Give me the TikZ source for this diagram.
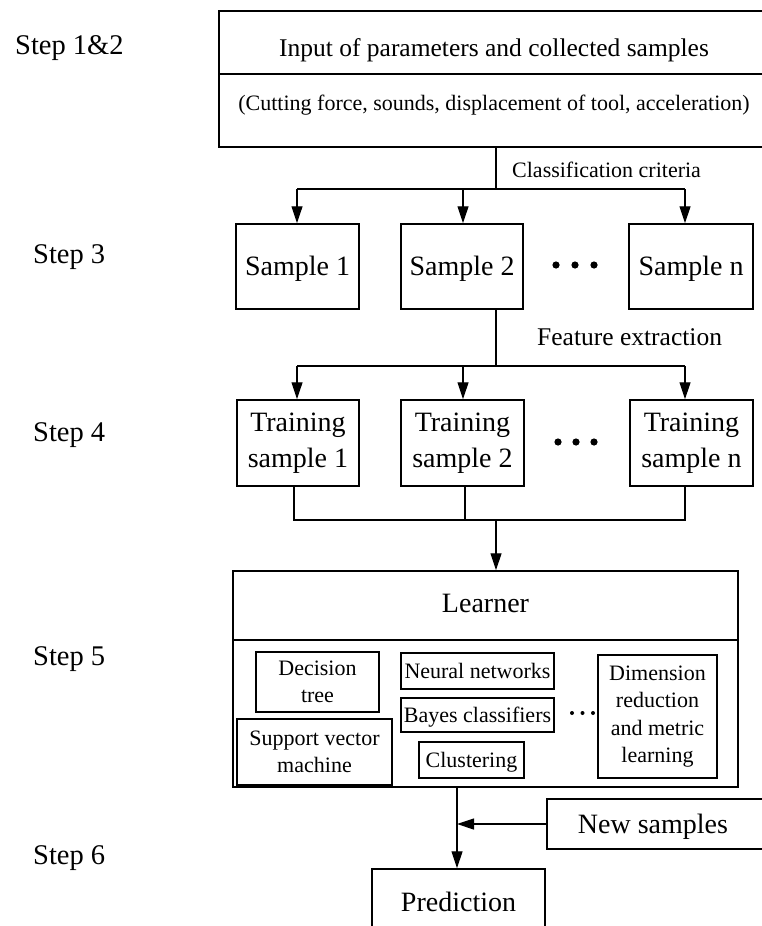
\documentclass[tikz,border=0pt]{standalone}
\usepackage{fontspec}
\setmainfont{Liberation Serif}
\usetikzlibrary{arrows.meta}
\begin{document}
\begin{tikzpicture}[x=1pt,y=-1pt,
  box/.style={draw, line width=1.5pt, inner sep=0pt, align=center},
  divline/.style={line width=1.5pt},
  conn/.style={line width=1.2pt},
  arr/.style={conn, -{Triangle[width=11pt,length=17pt]}},
  big/.style={font=\fontsize{28}{33}\selectfont},
  bigtwo/.style={font=\fontsize{28}{36}\selectfont},
  bigone/.style={big, text height=18.5pt, text depth=0pt},
  mid/.style={font=\fontsize{25.5}{30}\selectfont},
  small/.style={font=\fontsize{22}{27.5}\selectfont},
  smallone/.style={small, text height=14.6pt, text depth=0pt},
  lbl/.style={inner sep=0pt},
  steplbl/.style={anchor=base west, inner sep=0pt, font=\fontsize{28.5}{33}\selectfont},
  dotfill/.style={fill=black}
]
\useasboundingbox (0,0) rectangle (762,926);
\fill[white] (0,0) rectangle (762,926);
\clip (0,0) rectangle (762,926);

% step labels
\node[steplbl] (st12) at (15,54) {Step 1\&2};
\node[steplbl] (st3) at (33,263) {Step 3};
\node[steplbl] (st4) at (33,441) {Step 4};
\node[steplbl] (st5) at (33,665) {Step 5};
\node[steplbl] (st6) at (33,864) {Step 6};

% input box
\node[box, minimum width=550pt, minimum height=136pt] (inbox) at (494,79) {};
\coordinate (div1) at (0,74);
\draw[divline] (inbox.west |- div1) -- (inbox.east |- div1);
\node[lbl, mid, anchor=base] (t1) at (494,56) {Input of parameters and collected samples};
\node[lbl, small, anchor=base] (t2) at (494,110) {(Cutting force, sounds, displacement of tool, acceleration)};
\node[lbl, small, anchor=base west] (cc) at (512,177) {Classification criteria};

% samples
\node[box, bigone, minimum width=123pt, minimum height=85pt] (s1) at (297.5,266.5) {Sample 1};
\node[box, bigone, minimum width=122pt, minimum height=85pt] (s2) at (462,266.5) {Sample 2};
\node[box, bigone, minimum width=124pt, minimum height=85pt] (sn) at (691,266.5) {Sample n};
\fill[dotfill] (556,265) circle (3.6pt) (575,265) circle (3.6pt) (594,265) circle (3.6pt);

\coordinate (j1) at (496,189);
\coordinate (j1l) at (297,189);
\coordinate (j1m) at (463,189);
\coordinate (j1r) at (685,189);
\draw[conn] (inbox.south -| j1) -- (j1);
\draw[conn] (j1l) -- (j1r);
\draw[arr] (j1l) -- (j1l |- s1.north);
\draw[arr] (j1m) -- (j1m |- s2.north);
\draw[arr] (j1r) -- (j1r |- sn.north);

% feature extraction
\node[lbl, mid, anchor=base west] (fe) at (537,345) {Feature extraction};
\coordinate (j2) at (496,366);
\coordinate (j2l) at (297,366);
\coordinate (j2m) at (463,366);
\coordinate (j2r) at (685,366);
\draw[conn] (s2.south -| j2) -- (j2);
\draw[conn] (j2l) -- (j2r);

% training samples
\node[box, bigtwo, minimum width=122pt, minimum height=86pt] (tr1) at (298,443) {Training\\sample 1};
\node[box, bigtwo, minimum width=123pt, minimum height=86pt] (tr2) at (462.5,443) {Training\\sample 2};
\node[box, bigtwo, minimum width=123pt, minimum height=86pt] (trn) at (691.5,443) {Training\\sample n};
\fill[dotfill] (558,442) circle (3.6pt) (576,442) circle (3.6pt) (594,442) circle (3.6pt);
\draw[arr] (j2l) -- (j2l |- tr1.north);
\draw[arr] (j2m) -- (j2m |- tr2.north);
\draw[arr] (j2r) -- (j2r |- trn.north);

\coordinate (j3) at (496,520);
\coordinate (j3l) at (294,520);
\coordinate (j3m) at (465,520);
\coordinate (j3r) at (685,520);
\draw[conn] (tr1.south -| j3l) -- (j3l) -- (j3r) -- (trn.south -| j3r);
\draw[conn] (tr2.south -| j3m) -- (j3m);

% learner
\node[box, minimum width=505pt, minimum height=216pt] (learner) at (485.5,679) {};
\draw[arr] (j3) -- (j3 |- learner.north);
\coordinate (div2) at (0,640);
\draw[divline] (learner.west |- div2) -- (learner.east |- div2);
\node[lbl, big, anchor=base] (lt) at (485.5,612) {Learner};

\node[box, small, minimum width=123pt, minimum height=60pt] (dt) at (317.5,682) {Decision\\tree};
\node[box, small, minimum width=155pt, minimum height=66pt] (svm) at (314.5,752) {Support vector\\machine};
\node[box, smallone, minimum width=153pt, minimum height=36pt] (nn) at (477.5,671) {Neural networks};
\node[box, smallone, minimum width=153pt, minimum height=34pt] (bc) at (477.5,715) {Bayes classifiers};
\node[box, smallone, minimum width=105pt, minimum height=36pt] (cl) at (471.5,760) {Clustering};
\node[box, small, minimum width=119pt, minimum height=123pt] (dr) at (657.5,716.5) {Dimension\\reduction\\and metric\\learning};
\fill[dotfill] (572,713) circle (2pt) (582.5,713) circle (2pt) (593,713) circle (2pt);

% new samples and prediction
\node[box, minimum width=228pt, minimum height=50pt] (ns) at (661,824) {};
\node[lbl, bigone] (nst) at (653,824) {New samples};
\node[box, minimum width=173pt, minimum height=100pt] (pred) at (458.5,919) {};
\node[lbl, bigone] (pt) at (458.5,902) {Prediction};

\coordinate (j4) at (457,824);
\draw[arr] (j4 |- learner.south) -- (j4 |- pred.north);
\draw[arr] (ns.west) -- (j4);
\end{tikzpicture}
\end{document}
